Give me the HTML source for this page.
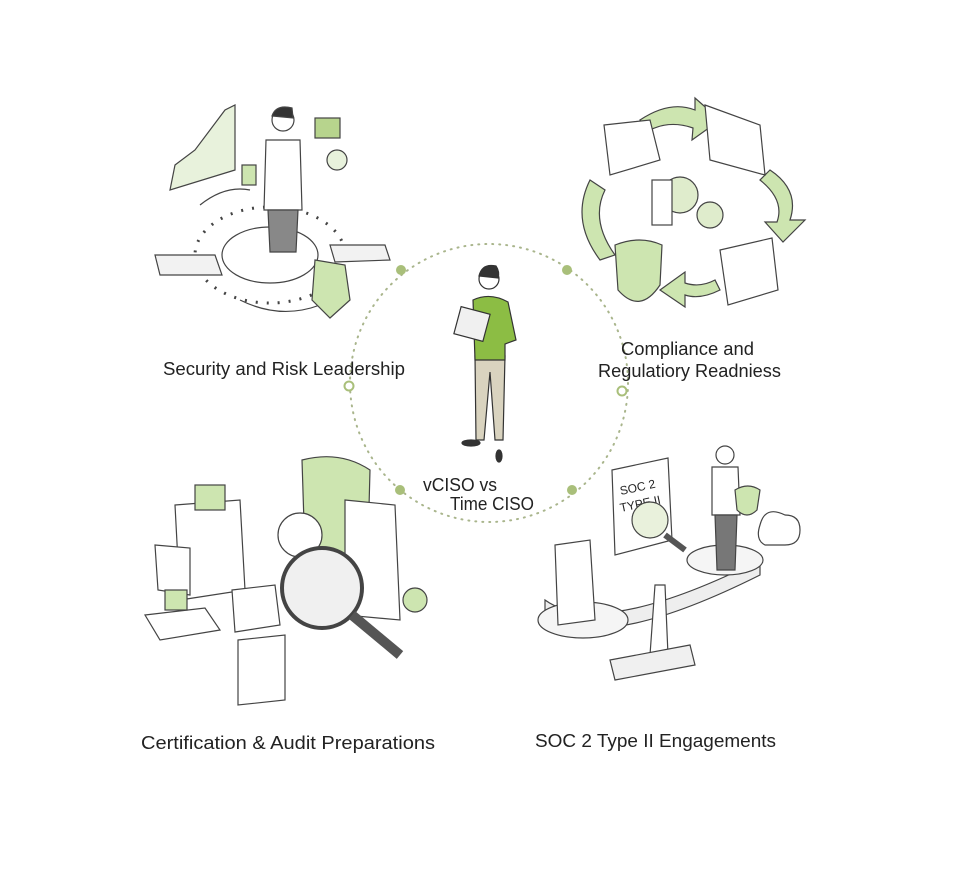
<!DOCTYPE html>
<html><head><meta charset="utf-8"><style>
body{margin:0;background:#fff}
svg{display:block}
text{font-family:"Liberation Sans",sans-serif;fill:#222}
</style></head><body>
<svg width="960" height="869" viewBox="0 0 960 869" xmlns="http://www.w3.org/2000/svg">
<rect width="960" height="869" fill="#fff"/>
<g fill="none" stroke="#333" stroke-width="1.3">
<circle cx="489" cy="383" r="139" stroke="#a9b58c" stroke-width="2" stroke-dasharray="1 6" stroke-linecap="round"/>
</g>
<g fill="#a9bf7a"><circle cx="401" cy="270" r="5"/><circle cx="567" cy="270" r="5"/><circle cx="400" cy="490" r="5"/><circle cx="572" cy="490" r="5"/></g>
<g fill="#fff" stroke="#a9bf7a" stroke-width="2"><circle cx="349" cy="386" r="4.5"/><circle cx="622" cy="391" r="4.5"/></g>

<g stroke="#333" stroke-width="1.2">
<path d="M475 356 L505 356 L503 440 L495 440 L490 372 L484 440 L476 440 Z" fill="#d9d3bf"/>
<path d="M473 300 Q490 292 508 302 L516 340 L505 344 L505 360 L475 360 Z" fill="#8cbd44"/>
<rect x="457" y="310" width="30" height="28" fill="#f0f0f0" transform="rotate(15 472 324)"/>
<circle cx="489" cy="279" r="10" fill="#fff"/>
<path d="M479 276 Q482 263 496 266 Q500 272 498 278 Z" fill="#333"/>
<ellipse cx="471" cy="443" rx="9" ry="3" fill="#333"/><ellipse cx="499" cy="456" rx="3" ry="6" fill="#333"/>
</g>

<g stroke="#444" stroke-width="1.2" fill="#fff">
<ellipse cx="270" cy="255" rx="75" ry="48" fill="none" stroke-dasharray="2 9" stroke-width="3"/>
<ellipse cx="270" cy="255" rx="48" ry="28" fill="none"/>
<path d="M240 300 Q280 320 320 305" fill="none"/>
<path d="M200 205 Q225 185 250 190" fill="none"/>
<path d="M170 190 L175 165 L195 150 L210 130 L225 110 L235 105 L235 170 Z" fill="#e8f2dc"/>
<path d="M266 140 L300 140 L302 210 L264 210 Z" fill="#fff"/>
<path d="M268 210 L298 210 L296 252 L270 252 Z" fill="#888"/>
<circle cx="283" cy="120" r="11"/>
<path d="M272 116 Q276 104 292 108 L293 118 Z" fill="#333"/>
<rect x="242" y="165" width="14" height="20" fill="#cde5b0"/>
<path d="M155 255 L215 255 L222 275 L160 275 Z" fill="#f2f2f2"/>
<path d="M330 245 L385 245 L390 260 L335 262 Z" fill="#f2f2f2"/>
<path d="M315 260 L345 265 L350 300 L330 318 L312 300 Z" fill="#cde5b0"/>
<rect x="315" y="118" width="25" height="20" fill="#b7d48d"/>
<circle cx="337" cy="160" r="10" fill="#e8f2dc"/>
</g>
<text x="163" y="375" font-size="18" textLength="242" lengthAdjust="spacingAndGlyphs">Security and Risk Leadership</text>

<g stroke="#444" stroke-width="1.2">
<path d="M590 180 Q570 220 600 260 L615 255 Q590 220 605 190 Z" fill="#cde5b0"/>
<path d="M640 120 Q670 100 695 110 L695 98 L720 120 L692 140 L693 128 Q670 120 650 130 Z" fill="#cde5b0"/>
<path d="M770 170 Q800 190 790 220 L805 220 L783 242 L765 222 L777 222 Q785 200 760 180 Z" fill="#cde5b0"/>
<path d="M720 290 Q700 300 685 295 L685 307 L660 290 L685 272 L685 283 Q700 288 715 280 Z" fill="#cde5b0"/>
<path d="M604 125 L650 120 L660 160 L610 175 Z" fill="#fff"/>
<path d="M705 105 L760 125 L765 175 L710 160 Z" fill="#fff"/>
<path d="M720 250 L772 238 L778 290 L728 305 Z" fill="#fff"/>
<path d="M615 245 Q640 235 662 245 L660 285 Q640 315 618 290 Z" fill="#cde5b0"/>
<circle cx="680" cy="195" r="18" fill="#dfeccc"/><circle cx="710" cy="215" r="13" fill="#dfeccc"/>
<rect x="652" y="180" width="20" height="45" fill="#fff"/>
</g>
<text x="621" y="355" font-size="18" textLength="133" lengthAdjust="spacingAndGlyphs">Compliance and</text>
<text x="598" y="377" font-size="18" textLength="183" lengthAdjust="spacingAndGlyphs">Regulatiory Readniess</text>

<g stroke="#444" stroke-width="1.2" fill="#fff">
<path d="M175 505 L240 500 L245 590 L180 600 Z"/>
<rect x="195" y="485" width="30" height="25" fill="#cde5b0"/>
<path d="M155 545 L190 548 L190 595 L158 590 Z"/>
<path d="M302 460 Q340 450 370 470 L368 545 Q345 575 305 555 Z" fill="#cde5b0"/>
<circle cx="300" cy="535" r="22"/>
<path d="M345 500 L395 505 L400 620 L345 615 Z"/>
<circle cx="322" cy="588" r="40" fill="#f0f0f0" stroke-width="4"/>
<path d="M352 615 L400 655" stroke="#555" stroke-width="10"/>
<path d="M145 615 L205 608 L220 630 L160 640 Z"/>
<rect x="165" y="590" width="22" height="20" fill="#cde5b0"/>
<path d="M232 590 L275 585 L280 625 L235 632 Z"/>
<path d="M238 640 L285 635 L285 700 L238 705 Z"/>
<circle cx="415" cy="600" r="12" fill="#cde5b0"/>
</g>
<text x="141" y="749" font-size="18" textLength="294" lengthAdjust="spacingAndGlyphs">Certification &amp; Audit Preparations</text>

<g stroke="#444" stroke-width="1.2" fill="#fff">
<path d="M545 600 Q600 640 760 560 L760 575 Q600 655 545 615 Z" fill="#eee"/>
<ellipse cx="583" cy="620" rx="45" ry="18" fill="#f5f5f5"/>
<ellipse cx="725" cy="560" rx="38" ry="15" fill="#f5f5f5"/>
<path d="M655 585 L665 585 L668 655 L650 655 Z"/>
<path d="M610 660 L690 645 L695 665 L615 680 Z" fill="#f0f0f0"/>
<path d="M555 545 L590 540 L595 620 L558 625 Z"/>
<path d="M612 470 L668 458 L672 540 L615 555 Z"/>
<text x="620" y="493" font-size="12" transform="rotate(-12 630 490)" stroke="none">SOC 2</text>
<text x="620" y="510" font-size="12" transform="rotate(-12 630 507)" stroke="none">TYPE II</text>
<circle cx="650" cy="520" r="18" fill="#e9f1dc"/>
<path d="M665 535 L685 550" stroke="#555" stroke-width="6"/>
<circle cx="725" cy="455" r="9"/>
<path d="M712 467 L738 467 L740 515 L712 515 Z"/>
<path d="M715 515 L737 515 L735 570 L717 570 Z" fill="#777"/>
<path d="M735 490 Q748 482 760 490 L757 510 Q747 520 737 510 Z" fill="#cde5b0"/>
<path d="M760 525 Q765 505 785 515 Q800 515 800 530 Q800 545 785 545 L765 545 Q755 540 760 525 Z"/>
</g>
<text x="535" y="747" font-size="18" textLength="241" lengthAdjust="spacingAndGlyphs">SOC 2 Type II Engagements</text>

<text x="423" y="491" font-size="18" textLength="74" lengthAdjust="spacingAndGlyphs">vCISO vs</text>
<text x="450" y="510" font-size="18" textLength="84" lengthAdjust="spacingAndGlyphs">Time CISO</text>
</svg>
</body></html>
